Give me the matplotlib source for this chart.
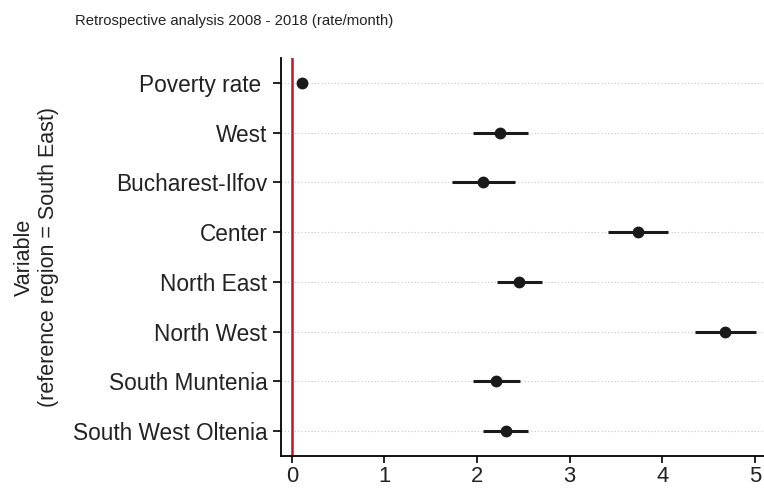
import matplotlib
matplotlib.use("Agg")
import matplotlib.pyplot as plt

# Estimates (rate/month)
variables = ["Poverty rate ", "West", "Bucharest-Ilfov", "Center",
             "North East", "North West", "South Muntenia", "South West Oltenia"]
estimates = [0.11, 2.25, 2.06, 3.74, 2.45, 4.68, 2.21, 2.31]
ci_low = [0.10, 1.96, 1.73, 3.42, 2.22, 4.36, 1.96, 2.07]
ci_high = [0.12, 2.55, 2.41, 4.06, 2.70, 5.01, 2.46, 2.55]
x_ticks = [0, 1, 2, 3, 4, 5]

plt.rcParams['font.family'] = ['Liberation Sans', 'DejaVu Sans']

fig = plt.figure(figsize=(7.64, 4.91), dpi=100)
ax = fig.add_axes([0.368, 0.071, 0.632, 0.811])

pos = list(range(len(variables)))

# grille pointillée horizontale
for p in pos:
    ax.axhline(p, color="#c8c8c8", lw=0.8, ls=(0, (1, 2)), zorder=0)

ax.axvline(0, color="#c0152f", lw=1.8, zorder=1)

for p, lo, hi in zip(pos, ci_low, ci_high):
    ax.plot([lo, hi], [p, p], color="#1a1a1a", lw=2.2, solid_capstyle="butt", zorder=2)
ax.plot(estimates, pos, "o", color="#1a1a1a", ms=7.5, zorder=3)

ax.set_ylim(len(variables) - 0.5, -0.5)
ax.set_xlim(-0.115, 5.1)
ax.set_yticks(pos)
ax.set_yticklabels(variables, fontsize=16.3, color="#222222")
ax.set_xticks(x_ticks)
ax.set_xticklabels([str(t) for t in x_ticks], fontsize=15.8, color="#222222")
ax.tick_params(axis="y", length=6, width=1.2, pad=4)
ax.tick_params(axis="x", length=5, width=1.2, pad=2)

for s in ["top", "right"]:
    ax.spines[s].set_visible(False)
for s in ["left", "bottom"]:
    ax.spines[s].set_linewidth(1.3)

ax.set_ylabel("Variable\n(reference region = South East)", fontsize=15.5,
              labelpad=10, color="#222222")

fig.text(0.098, 0.958, "Retrospective analysis 2008 - 2018 (rate/month)",
         fontsize=10.7, ha="left", va="center", color="#222222")

fig.savefig("out.png", dpi=100)
